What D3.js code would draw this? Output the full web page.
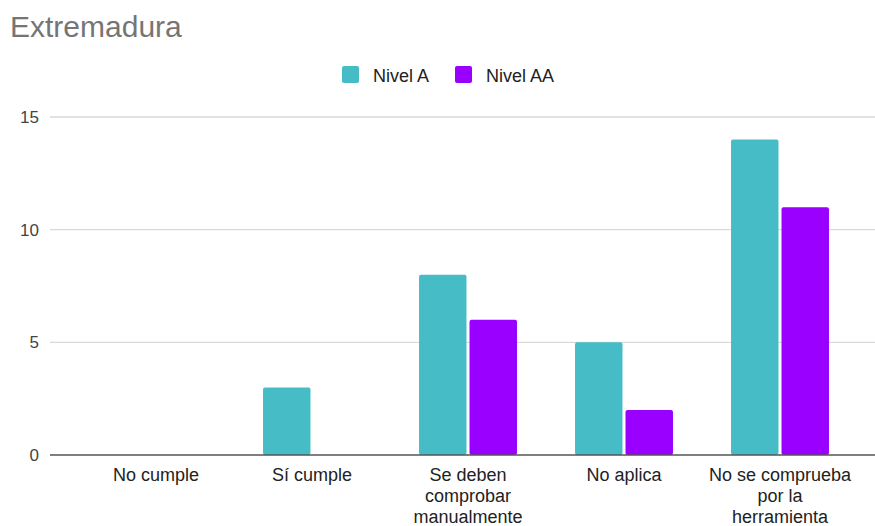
<!DOCTYPE html>
<html>
<head>
<meta charset="utf-8">
<script src="https://cdn.jsdelivr.net/npm/d3@7"></script>
<style>
  html, body { margin: 0; padding: 0; background: #fff; }
  svg { display: block; font-family: "Liberation Sans", Arial, sans-serif; }
</style>
</head>
<body>
<svg id="chart" width="875" height="526"></svg>
<script>
// Chart data
const categories = ["No cumple", "Sí cumple", "Se deben comprobar manualmente", "No aplica", "No se comprueba por la herramienta"];
const seriesNames = ["Nivel A", "Nivel AA"];
const nivelA = [0, 3, 8, 5, 14];
const nivelAA = [0, 0, 6, 2, 11];
const yTicks = [0, 5, 10, 15];
const colors = ["#46bdc6", "#9900ff"];

const seriesValues = [nivelA, nivelAA];
const rows = categories.map((c, i) => ({
  category: c,
  values: seriesNames.map((s, j) => ({ series: s, value: seriesValues[j][i], color: colors[j] }))
}));

const svg = d3.select("#chart");
const plot = { left: 50, right: 875, top: 117, bottom: 455 };

const y = d3.scaleLinear().domain([0, 15]).range([plot.bottom, plot.top]);
const x0 = d3.scaleBand().domain(categories).range([78, 858]).paddingInner(0.372).paddingOuter(0.186);
const x1 = d3.scaleBand().domain(seriesNames).range([0, x0.bandwidth()]).paddingInner(0.06);

// Title
svg.append("text")
  .attr("x", 10).attr("y", 37)
  .attr("font-size", 30).attr("fill", "#757575")
  .text("Extremadura");

// Gridlines
svg.append("g").selectAll("line")
  .data(yTicks.filter(t => t !== 0))
  .join("line")
  .attr("x1", plot.left).attr("x2", plot.right)
  .attr("y1", d => y(d)).attr("y2", d => y(d))
  .attr("stroke", "#d9d9d9").attr("stroke-width", 1.3);

// Y axis labels
const yAxis = d3.axisLeft(y).tickValues(yTicks).tickSize(0).tickPadding(0);
const gy = svg.append("g").attr("transform", `translate(39,0)`).call(yAxis);
gy.select(".domain").remove();
gy.selectAll("text")
  .attr("font-size", 17).attr("fill", "#444").attr("font-family", "Liberation Sans, Arial, sans-serif");

// Bars
const groups = svg.append("g").selectAll("g")
  .data(rows)
  .join("g")
  .attr("transform", d => `translate(${x0(d.category)},0)`);

groups.selectAll("rect")
  .data(d => d.values.filter(v => v.value > 0))
  .join("rect")
  .attr("x", d => x1(d.series))
  .attr("width", x1.bandwidth())
  .attr("y", d => y(d.value))
  .attr("height", d => y(0) - y(d.value))
  .attr("rx", 2).attr("ry", 2)
  .attr("fill", d => d.color);

// Baseline
svg.append("line")
  .attr("x1", plot.left).attr("x2", plot.right)
  .attr("y1", y(0)).attr("y2", y(0))
  .attr("stroke", "#555").attr("stroke-width", 1.5);

// X axis labels with word wrapping
const xAxis = d3.axisBottom(x0).tickSize(0).tickPadding(0);
const gx = svg.append("g").attr("transform", `translate(0,${y(0)})`).call(xAxis);
gx.select(".domain").remove();
gx.selectAll("text").remove();
gx.selectAll(".tick").each(function(cat) {
  const t = d3.select(this).append("text")
    .attr("text-anchor", "middle")
    .attr("font-size", 18).attr("fill", "#222")
    .attr("font-family", "Liberation Sans, Arial, sans-serif");
  const words = cat.split(" ");
  const maxW = 145;
  let lines = [], line = [];
  const probe = t.append("tspan");
  words.forEach(w => {
    const test = line.concat(w).join(" ");
    probe.text(test);
    if (probe.node().getComputedTextLength() > maxW && line.length) {
      lines.push(line.join(" "));
      line = [w];
    } else {
      line.push(w);
    }
  });
  lines.push(line.join(" "));
  probe.remove();
  lines.forEach((l, i) => {
    t.append("tspan").attr("x", 0).attr("y", 26 + i * 21).text(l);
  });
});

// Legend
const legend = svg.append("g");
const legendX = [342, 455];
seriesNames.forEach((s, i) => {
  legend.append("rect")
    .attr("x", legendX[i]).attr("y", 66)
    .attr("width", 17).attr("height", 17).attr("rx", 2)
    .attr("fill", colors[i]);
  legend.append("text")
    .attr("x", legendX[i] + 31).attr("y", 82)
    .attr("font-size", 18).attr("fill", "#222")
    .text(s);
});
</script>
</body>
</html>
